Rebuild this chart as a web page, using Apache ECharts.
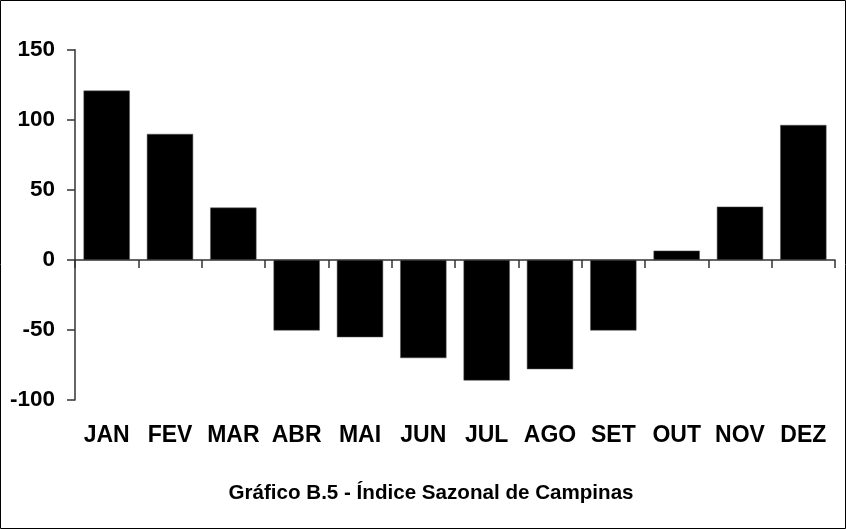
<!DOCTYPE html>
<html>
<head>
<meta charset="utf-8">
<script src="https://cdn.jsdelivr.net/npm/echarts@6/dist/echarts.min.js"></script>
<style>
  html, body { margin: 0; padding: 0; background: #fff; }
  #main { width: 846px; height: 529px; }
</style>
</head>
<body>
<div id="main"></div>
<script>
// monthly seasonal index values
const months = ["JAN", "FEV", "MAR", "ABR", "MAI", "JUN", "JUL", "AGO", "SET", "OUT", "NOV", "DEZ"];
const indexValues = [120.8, 89.9, 37.3, -50.4, -55.2, -70.1, -86.1, -78, -50.4, 6.6, 38, 96.3];
const yTicks = [-100, -50, 0, 50, 100, 150];
const chartTitle = "Gráfico B.5 - Índice Sazonal de Campinas";

const font = "'Liberation Sans', Arial, sans-serif";

var myChart = echarts.init(document.getElementById("main"));

const options = {
  animation: false,
  backgroundColor: "#fff",
  grid: { left: 75, right: 11, top: 49.7, bottom: 129, containLabel: false },
  xAxis: [
    {
      type: "category",
      data: months,
      axisLine: { onZero: true, lineStyle: { color: "#333", width: 1.5 } },
      axisTick: { show: true, length: 8, lineStyle: { color: "#333", width: 1.5 } },
      axisLabel: { show: false }
    },
    {
      type: "category",
      data: months,
      position: "bottom",
      axisLine: { show: false, onZero: false },
      axisTick: { show: false },
      axisLabel: {
        interval: 0,
        hideOverlap: false,
        margin: 24,
        color: "#000",
        fontFamily: font,
        fontWeight: "bold",
        fontSize: 23
      }
    }
  ],
  yAxis: {
    type: "value",
    min: yTicks[0],
    max: yTicks[yTicks.length - 1],
    interval: 50,
    axisLine: { show: true, lineStyle: { color: "#333", width: 1.5 } },
    axisTick: { show: true, length: 8, lineStyle: { color: "#333", width: 1.5 } },
    splitLine: { show: false },
    axisLabel: {
      margin: 20,
      color: "#000",
      fontFamily: font,
      fontWeight: "bold",
      fontSize: 22.5
    }
  },
  series: [
    {
      type: "bar",
      data: indexValues,
      xAxisIndex: 0,
      barCategoryGap: "27%",
      itemStyle: { color: "#000", borderColor: "#555", borderWidth: 0.5 }
    }
  ],
  graphic: [
    {
      type: "rect",
      shape: { x: 0.5, y: 0.5, width: 845, height: 528 },
      style: { fill: "none", stroke: "#000", lineWidth: 1 },
      silent: true
    },
    {
      type: "text",
      x: 431,
      y: 493,
      style: {
        text: chartTitle,
        align: "center",
        verticalAlign: "middle",
        fill: "#000",
        font: "bold 20.6px " + font
      }
    }
  ]
};

myChart.setOption(options);
window.onresize = function() {
  myChart.resize();
};
</script>
</body>
</html>
